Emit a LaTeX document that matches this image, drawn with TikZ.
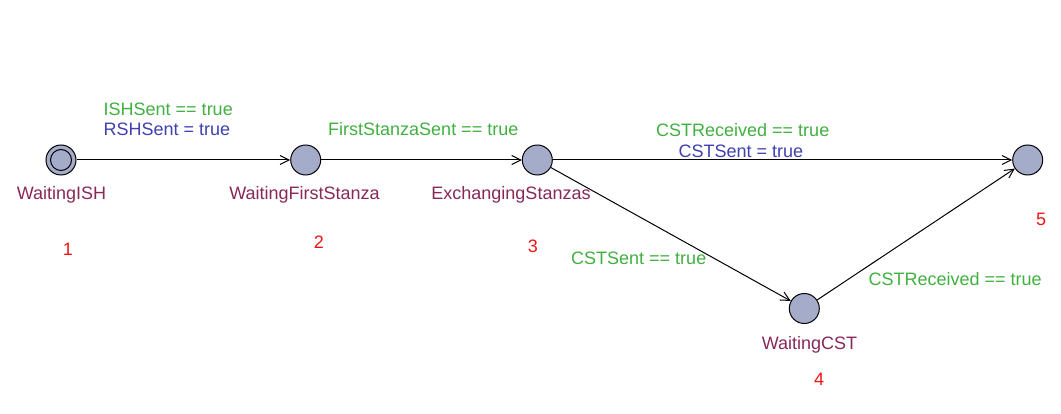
\documentclass[tikz,border=0pt]{standalone}
\usepackage{fontspec}
\setmainfont{Liberation Sans}
\usetikzlibrary{arrows.meta}

\definecolor{guardcol}{RGB}{64,176,64}
\definecolor{updatecol}{RGB}{64,64,176}
\definecolor{namecol}{RGB}{136,40,88}
\definecolor{idcol}{RGB}{240,20,20}

\begin{document}
\begin{tikzpicture}[x=1pt,y=-1pt,
  font=\fontsize{18}{21}\selectfont,
  loc/.style={circle,draw,line width=1pt,fill={rgb,255:red,165;green,172;blue,202},minimum size=30pt,inner sep=0pt},
  guard/.style={text=guardcol,anchor=base west,inner sep=0pt},
  update/.style={text=updatecol,anchor=base west,inner sep=0pt},
  locname/.style={text=namecol,anchor=base,inner sep=0pt},
  locid/.style={text=idcol,anchor=base,inner sep=0pt},
  trans/.style={-{Straight Barb[length=9pt,width=9pt]},line width=1pt}]
\useasboundingbox (0,0) rectangle (1061,414);

\node[loc] (ish) at (61,160) {};
\node[circle,draw,line width=1pt,minimum size=21pt,inner sep=0pt] (ishinit) at (ish) {};
\node[loc] (first) at (305.7,160) {};
\node[loc] (exch) at (537.3,160) {};
\node[loc] (cst) at (804.3,308.5) {};
\node[loc] (done) at (1027.7,160) {};

\node[locname] (ishname) at (61.5,200) {WaitingISH};
\node[locname] (firstname) at (304.5,200) {WaitingFirstStanza};
\node[locname] (exchname) at (511,200) {ExchangingStanzas};
\node[locname] (cstname) at (809.5,349.5) {WaitingCST};

\node[locid] (id1) at (68,255.5) {1};
\node[locid] (id2) at (319,248.5) {2};
\node[locid] (id3) at (533,252.5) {3};
\node[locid] (id4) at (819,385) {4};
\node[locid] (id5) at (1041,226) {5};

\draw[trans] (ish) -- (first);
\draw[trans] (first) -- (exch);
\draw[trans] (exch) -- (done);
\draw[trans] (exch) -- (cst);
\draw[trans] (cst) -- (done);

\node[guard] (g1) at (103.5,115.7) {ISHSent == true};
\node[update] (u1) at (103.5,136) {RSHSent = true};
\node[guard] (g2) at (328,136) {FirstStanzaSent == true};
\node[guard] (g3) at (656,136.5) {CSTReceived == true};
\node[update] (u3) at (678.3,158) {CSTSent = true};
\node[guard] (g4) at (571,264.5) {CSTSent == true};
\node[guard] (g5) at (868.3,285.7) {CSTReceived == true};
\end{tikzpicture}
\end{document}
